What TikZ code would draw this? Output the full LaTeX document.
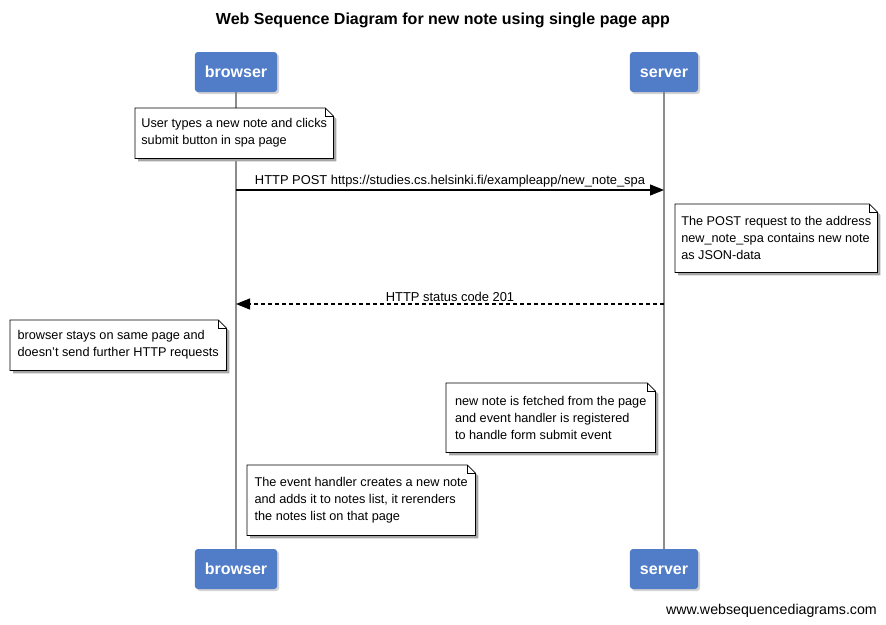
\documentclass[tikz,border=0pt]{standalone}
\usepackage{fontspec}
\setmainfont{Liberation Sans}
\usepackage{xcolor}
\usetikzlibrary{arrows.meta, positioning, calc, shadows, backgrounds}

\definecolor{actorblue}{RGB}{80,124,200}

\tikzset{
    actor/.style={rectangle, rounded corners=3pt, fill=actorblue, text=white,
        font=\bfseries\fontsize{16}{18}\selectfont, minimum height=40pt, inner xsep=10pt,
        text height=11pt, text depth=1pt,
        drop shadow={opacity=0.35, shadow xshift=2pt, shadow yshift=-2pt}},
    note/.style={anchor=north west, align=left, inner xsep=5pt, inner ysep=8pt,
        font=\fontsize{12.7}{17}\selectfont, execute at begin node={\rule{0pt}{14.5pt}}},
    lifeline/.style={black!45, line width=1.2pt},
    msg/.style={line width=1.2pt, -{Triangle[length=14pt, width=11pt]}},
    reply/.style={msg, dash pattern=on 4pt off 3pt},
    msglabel/.style={font=\fontsize{12.9}{14}\selectfont, above, inner sep=2pt}
}

\begin{document}
\begin{tikzpicture}[x=1pt, y=-1pt]
    \useasboundingbox (0,0) rectangle (886,624);

    % Title
    \node[font=\bfseries\fontsize{16}{18}\selectfont] (title) at (443,20)
        {Web Sequence Diagram for new note using single page app};

    % Participants
    \node[actor] (b-top) at (236,72) {browser};
    \node[actor] (s-top) at (664,72) {server};
    \node[actor] (b-bot) at (236,569) {browser};
    \node[actor] (s-bot) at (664,569) {server};

    \begin{scope}[on background layer]
        \draw[lifeline] (b-top) -- (b-bot);
        \draw[lifeline] (s-top) -- (s-bot);
    \end{scope}

    % Notes
    \node[note, minimum width=198pt, minimum height=50pt] (n1) at (135,108)
        {User types a new note and clicks\\submit button in spa page};
    \node[note, minimum width=202pt, minimum height=68pt] (n2) at (675,204)
        {The POST request to the address\\new\_note\_spa contains new note\\as JSON-data};
    \node[note, minimum width=216pt, minimum height=50pt] (n3) at (10,320)
        {browser stays on same page and\\doesn't send further HTTP requests};
    \node[note, minimum width=209pt, minimum height=69pt] (n4) at (446,383)
        {new note is fetched from the page\\and event handler is registered\\to handle form submit event};
    \node[note, minimum width=228pt, minimum height=70pt] (n5) at (247,465)
        {The event handler creates a new note\\and adds it to notes list, it rerenders\\the notes list on that page};

    \begin{scope}[on background layer]
    \foreach \n in {n1,n2,n3,n4,n5} {
        \fill[black!35] ([xshift=3pt,yshift=-3pt]\n.north west) -- ([xshift=-5pt,yshift=-3pt]\n.north east)
            -- ([xshift=3pt,yshift=-11pt]\n.north east) -- ([xshift=3pt,yshift=-3pt]\n.south east)
            -- ([xshift=3pt,yshift=-3pt]\n.south west) -- cycle;
        \filldraw[fill=white, line width=0.8pt] (\n.north west) -- ([xshift=-8pt]\n.north east)
            -- ([yshift=-8pt]\n.north east) -- (\n.south east) -- (\n.south west) -- cycle;
        \draw[line width=0.6pt] ([xshift=-8pt]\n.north east) |- ([yshift=-8pt]\n.north east);
    }
    \end{scope}

    % Messages
    \coordinate (b-post) at (b-top |- 0,190);
    \coordinate (s-post) at (s-top |- 0,190);
    \coordinate (s-201) at (s-top |- 0,304);
    \coordinate (b-201) at (b-top |- 0,304);

    \draw[msg] (b-post) -- node[msglabel] {HTTP POST https://studies.cs.helsinki.fi/exampleapp/new\_note\_spa} (s-post);
    \draw[reply] (s-201) -- node[msglabel] {HTTP status code 201} (b-201);

    % Footer
    \node[anchor=base east, font=\fontsize{14.2}{16}\selectfont, inner sep=0pt] (footer) at (877,614)
        {www.websequencediagrams.com};
\end{tikzpicture}
\end{document}
